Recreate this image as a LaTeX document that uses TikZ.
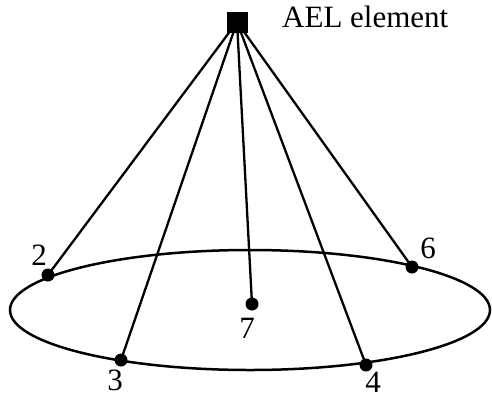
\documentclass[tikz,border=0pt]{standalone}
\usepackage{fontspec}
\setmainfont{Liberation Serif}
\begin{document}
\begin{tikzpicture}[x=1pt,y=-1pt,
  dot/.style={circle,fill=black,inner sep=0pt,minimum size=13pt},
  lbl/.style={inner sep=0pt,font=\fontsize{31}{31}\selectfont},
  wire/.style={line width=2.3pt},
  ring/.style={line width=2.5pt}]
\useasboundingbox (0,0) rectangle (492,400);
\draw[ring] (250,310) ellipse [x radius=240pt, y radius=60pt];
\node[fill=black,inner sep=0pt,minimum size=21pt] (ael) at (237,22) {};
\node[dot] (p2) at (48,275) {};
\node[dot] (p3) at (121,360) {};
\node[dot] (p7) at (252,304) {};
\node[dot] (p4) at (366,365) {};
\node[dot] (p6) at (412,267) {};
\foreach \p in {p2,p3,p7,p4,p6} \draw[wire] (ael.center) -- (\p.center);
\node[lbl,anchor=base west] (t) at (282,27) {AEL element};
\node[lbl] (l2) at (39,255) {2};
\node[lbl] (l3) at (115,380) {3};
\node[lbl] (l7) at (247,328) {7};
\node[lbl] (l6) at (428,248) {6};
\node[lbl] (l4) at (373,382) {4};
\end{tikzpicture}
\end{document}
